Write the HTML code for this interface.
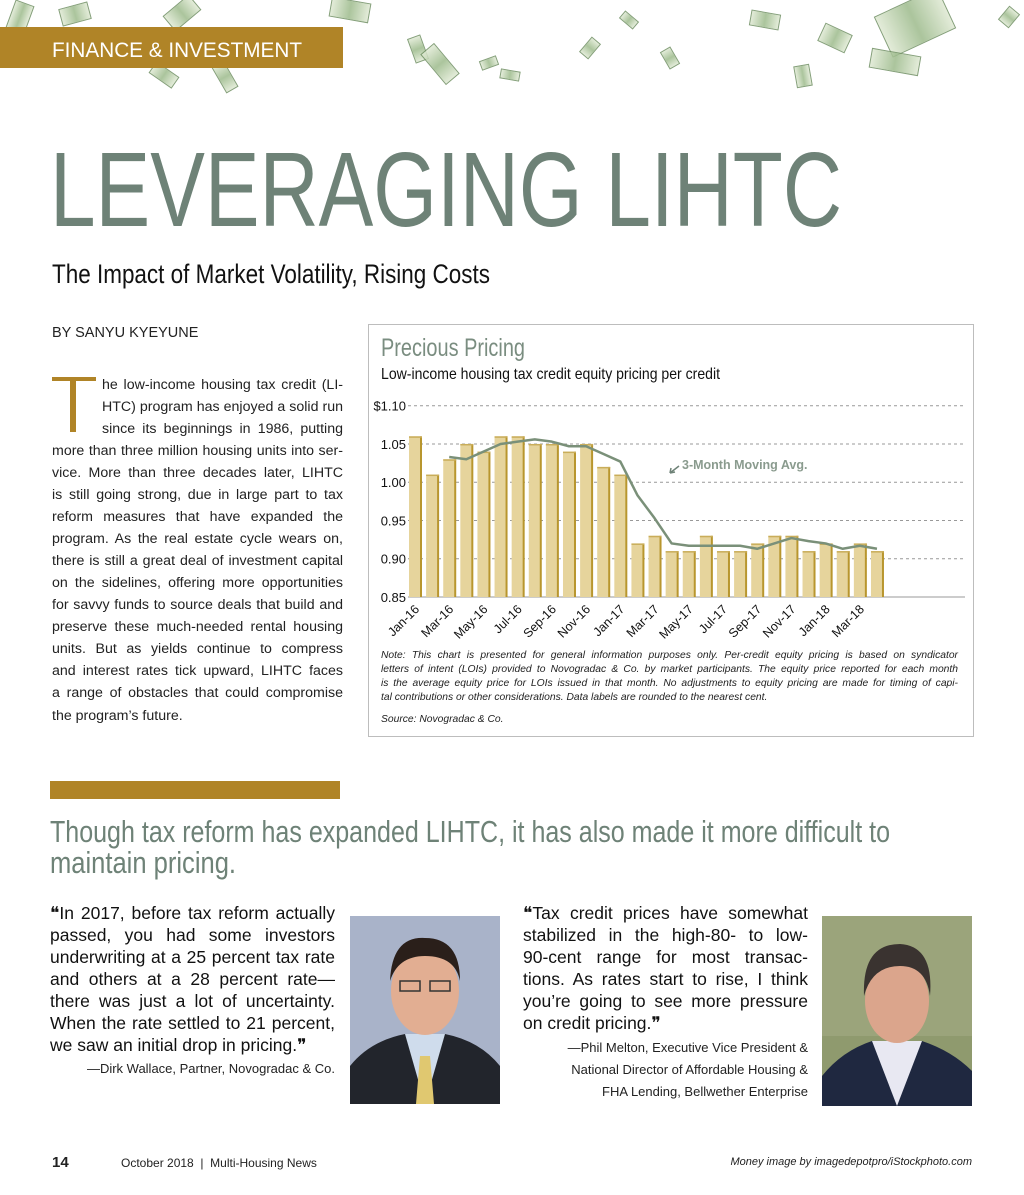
<!DOCTYPE html>
<html><head><meta charset="utf-8">
<style>
*{margin:0;padding:0;box-sizing:border-box}
body{width:1024px;height:1195px;background:#fff;position:relative;overflow:hidden;font-family:"Liberation Sans",sans-serif;color:#222}
.abs{position:absolute}
.j{position:absolute;white-space:nowrap;text-align:justify;text-align-last:justify}
.body{font-size:14.2px;line-height:22px;height:22px}
.q{font-size:17.5px;line-height:22px;height:22px;color:#111}
.n{font-size:10.3px;line-height:14px;height:14px;font-style:italic;color:#222}
.attr{font-size:13px;text-align:right;white-space:nowrap;position:absolute}
.bill{position:absolute;background:linear-gradient(90deg,#dfe9d3,#9dbb8c 50%,#dfe9d3);border:1px solid #6f8f62;opacity:.85}
</style></head><body>
<div class="abs" style="left:0;top:0;width:1024px;height:100px">
<div class="bill" style="left:10px;top:2px;width:20px;height:30px;transform:rotate(20deg)"></div>
<div class="bill" style="left:60px;top:5px;width:30px;height:18px;transform:rotate(-15deg)"></div>
<div class="bill" style="left:150px;top:68px;width:28px;height:14px;transform:rotate(35deg)"></div>
<div class="bill" style="left:165px;top:3px;width:34px;height:20px;transform:rotate(-40deg)"></div>
<div class="bill" style="left:210px;top:70px;width:30px;height:14px;transform:rotate(60deg)"></div>
<div class="bill" style="left:330px;top:0px;width:40px;height:20px;transform:rotate(10deg)"></div>
<div class="bill" style="left:405px;top:42px;width:26px;height:14px;transform:rotate(70deg)"></div>
<div class="bill" style="left:420px;top:55px;width:40px;height:18px;transform:rotate(50deg)"></div>
<div class="bill" style="left:480px;top:58px;width:18px;height:10px;transform:rotate(-20deg)"></div>
<div class="bill" style="left:500px;top:70px;width:20px;height:10px;transform:rotate(10deg)"></div>
<div class="bill" style="left:580px;top:42px;width:20px;height:12px;transform:rotate(-50deg)"></div>
<div class="bill" style="left:620px;top:15px;width:18px;height:10px;transform:rotate(40deg)"></div>
<div class="bill" style="left:660px;top:52px;width:20px;height:12px;transform:rotate(60deg)"></div>
<div class="bill" style="left:750px;top:12px;width:30px;height:16px;transform:rotate(10deg)"></div>
<div class="bill" style="left:820px;top:28px;width:30px;height:20px;transform:rotate(25deg)"></div>
<div class="bill" style="left:880px;top:0px;width:70px;height:45px;transform:rotate(-25deg)"></div>
<div class="bill" style="left:870px;top:52px;width:50px;height:20px;transform:rotate(10deg)"></div>
<div class="bill" style="left:795px;top:65px;width:16px;height:22px;transform:rotate(-10deg)"></div>
<div class="bill" style="left:1000px;top:10px;width:18px;height:14px;transform:rotate(-50deg)"></div>
</div>
<div class="abs" style="left:0;top:27px;width:343px;height:41px;background:#b08427"></div>
<svg class="abs" style="left:0;top:0" width="1024" height="900">
<text x="52" y="57" font-family="Liberation Sans Narrow, Liberation Sans, sans-serif" font-size="21" fill="#fff" textLength="250" lengthAdjust="spacingAndGlyphs">FINANCE &amp; INVESTMENT</text>
<text x="50" y="226" font-family="Liberation Sans Narrow, Liberation Sans, sans-serif" font-size="106" fill="#6e8277" textLength="792" lengthAdjust="spacingAndGlyphs">LEVERAGING LIHTC</text>
<text x="52" y="283" font-family="Liberation Sans Narrow, Liberation Sans, sans-serif" font-size="27" fill="#111" textLength="438" lengthAdjust="spacingAndGlyphs">The Impact of Market Volatility, Rising Costs</text>
<text x="50" y="842" font-family="Liberation Sans Narrow, Liberation Sans, sans-serif" font-size="31" fill="#6e8277" textLength="840" lengthAdjust="spacingAndGlyphs">Though tax reform has expanded LIHTC, it has also made it more difficult to</text>
<text x="50" y="873" font-family="Liberation Sans Narrow, Liberation Sans, sans-serif" font-size="31" fill="#6e8277" textLength="186" lengthAdjust="spacingAndGlyphs">maintain pricing.</text>
</svg>
<div class="abs" style="left:52px;top:325px;font-size:14.5px">BY SANYU KYEYUNE</div>
<div class="abs" style="left:52px;top:377px;width:44px;height:55px">
<div class="abs" style="left:0;top:0;width:44px;height:4px;background:#b08427"></div>
<div class="abs" style="left:18px;top:0;width:6px;height:55px;background:#b08427"></div>
</div>
<div>
<div class="j body" style="left:102px;top:374px;width:241px">he low-income housing tax credit (LI-</div>
<div class="j body" style="left:102px;top:396px;width:241px">HTC) program has enjoyed a solid run</div>
<div class="j body" style="left:102px;top:418px;width:241px">since its beginnings in 1986, putting</div>
<div class="j body" style="left:52px;top:440px;width:291px">more than three million housing units into ser-</div>
<div class="j body" style="left:52px;top:462px;width:291px">vice. More than three decades later, LIHTC</div>
<div class="j body" style="left:52px;top:484px;width:291px">is still going strong, due in large part to tax</div>
<div class="j body" style="left:52px;top:506px;width:291px">reform measures that have expanded the</div>
<div class="j body" style="left:52px;top:528px;width:291px">program. As the real estate cycle wears on,</div>
<div class="j body" style="left:52px;top:550px;width:291px">there is still a great deal of investment capital</div>
<div class="j body" style="left:52px;top:572px;width:291px">on the sidelines, offering more opportunities</div>
<div class="j body" style="left:52px;top:594px;width:291px">for savvy funds to source deals that build and</div>
<div class="j body" style="left:52px;top:616px;width:291px">preserve these much-needed rental housing</div>
<div class="j body" style="left:52px;top:638px;width:291px">units. But as yields continue to compress</div>
<div class="j body" style="left:52px;top:660px;width:291px">and interest rates tick upward, LIHTC faces</div>
<div class="j body" style="left:52px;top:682px;width:291px">a range of obstacles that could compromise</div>
<div class="abs body" style="left:52px;top:705px">the program’s future.</div>
</div>

<div class="abs" style="left:368px;top:324px;width:606px;height:413px;border:1px solid #bdbdbd"></div>
<svg class="abs" style="left:0;top:0" width="1024" height="760" id="chart">
<text x="381" y="356" font-family="Liberation Sans Narrow, Liberation Sans, sans-serif" font-size="25" fill="#7a8d80" textLength="144" lengthAdjust="spacingAndGlyphs">Precious Pricing</text>
<text x="381" y="379" font-family="Liberation Sans Narrow, Liberation Sans, sans-serif" font-size="16" fill="#111" textLength="339" lengthAdjust="spacingAndGlyphs">Low-income housing tax credit equity pricing per credit</text>
<g id="grid"></g><g id="bars"></g><g id="line"></g><g id="xl"></g><g id="yl"></g>
<text x="682" y="469" font-family="Liberation Sans, sans-serif" font-size="12.5" font-weight="bold" fill="#8a9b8e">3-Month Moving Avg.</text>
<path d="M679,466 L670,473 M670,473 l5,-1 M670,473 l1,-5" stroke="#6e8277" stroke-width="1.5" fill="none"/>
</svg>
<div>
<div class="j n" style="left:381px;top:649px;width:577px">Note: This chart is presented for general information purposes only. Per-credit equity pricing is based on syndicator</div>
<div class="j n" style="left:381px;top:663px;width:577px">letters of intent (LOIs) provided to Novogradac &amp; Co. by market participants. The equity price reported for each month</div>
<div class="j n" style="left:381px;top:677px;width:577px">is the average equity price for LOIs issued in that month. No adjustments to equity pricing are made for timing of capi-</div>
<div class="abs n" style="left:381px;top:691px;white-space:nowrap">tal contributions or other considerations. Data labels are rounded to the nearest cent.</div>
</div>
<div class="abs n" style="left:381px;top:713px;white-space:nowrap">Source: Novogradac &amp; Co.</div>

<div class="abs" style="left:50px;top:781px;width:290px;height:18px;background:#b08427"></div>

<div>
<div class="j q" style="left:50px;top:902px;width:285px">❝In 2017, before tax reform actually</div>
<div class="j q" style="left:50px;top:924px;width:285px">passed, you had some investors</div>
<div class="j q" style="left:50px;top:946px;width:285px">underwriting at a 25 percent tax rate</div>
<div class="j q" style="left:50px;top:968px;width:285px">and others at a 28 percent rate—</div>
<div class="j q" style="left:50px;top:990px;width:285px">there was just a lot of uncertainty.</div>
<div class="j q" style="left:50px;top:1012px;width:285px">When the rate settled to 21 percent,</div>
<div class="abs q" style="left:50px;top:1034px">we saw an initial drop in pricing.❞</div>
<div class="attr" style="right:689px;top:1061px">—Dirk Wallace, Partner, Novogradac &amp; Co.</div>
</div>
<div>
<div class="j q" style="left:523px;top:902px;width:285px">❝Tax credit prices have somewhat</div>
<div class="j q" style="left:523px;top:924px;width:285px">stabilized in the high-80- to low-</div>
<div class="j q" style="left:523px;top:946px;width:285px">90-cent range for most transac-</div>
<div class="j q" style="left:523px;top:968px;width:285px">tions. As rates start to rise, I think</div>
<div class="j q" style="left:523px;top:990px;width:285px">you’re going to see more pressure</div>
<div class="abs q" style="left:523px;top:1012px">on credit pricing.❞</div>
<div class="attr" style="right:216px;top:1040px">—Phil Melton, Executive Vice President &amp;</div>
<div class="attr" style="right:216px;top:1062px">National Director of Affordable Housing &amp;</div>
<div class="attr" style="right:216px;top:1084px">FHA Lending, Bellwether Enterprise</div>
</div>

<svg class="abs" style="left:350px;top:916px" width="150" height="188">
<rect width="150" height="188" fill="#a9b3c9"/>
<path d="M0,188 L0,150 Q20,125 55,118 L95,118 Q130,125 150,150 L150,188Z" fill="#22252c"/>
<path d="M55,118 L75,188 L95,118Z" fill="#cfdcec"/>
<path d="M70,140 L80,140 L84,188 L66,188Z" fill="#e0c870"/>
<ellipse cx="75" cy="75" rx="34" ry="44" fill="#e2ae92"/>
<path d="M40,65 Q42,20 75,22 Q110,22 110,65 Q105,40 75,40 Q48,40 40,65Z" fill="#2a1f1a"/>
<rect x="50" y="65" width="20" height="10" fill="none" stroke="#333" stroke-width="1.5"/><rect x="80" y="65" width="20" height="10" fill="none" stroke="#333" stroke-width="1.5"/>
</svg>
<svg class="abs" style="left:822px;top:916px" width="150" height="190">
<rect width="150" height="190" fill="#8f9a6e"/>
<rect x="0" y="0" width="150" height="120" fill="#a3ab84" opacity=".6"/>
<path d="M0,190 L0,160 Q20,135 50,125 L100,125 Q130,135 150,155 L150,190Z" fill="#1f2840"/>
<path d="M50,125 L75,190 L100,125Z" fill="#e8e8f2"/>
<ellipse cx="75" cy="85" rx="32" ry="42" fill="#dba58c"/>
<path d="M42,80 Q40,28 78,28 Q112,30 108,80 Q104,50 78,50 Q50,50 42,80Z" fill="#3a3330"/>
</svg>

<div class="abs" style="left:52px;top:1154px;font-size:15px;font-weight:bold">14</div>
<div class="abs" style="left:121px;top:1156px;font-size:12px">October 2018 &nbsp;|&nbsp; Multi-Housing News</div>
<div class="abs" style="right:52px;top:1156px;font-size:11px;font-style:italic">Money image by imagedepotpro/iStockphoto.com</div>

<script>
const months=["Jan-16","Feb-16","Mar-16","Apr-16","May-16","Jun-16","Jul-16","Aug-16","Sep-16","Oct-16","Nov-16","Dec-16","Jan-17","Feb-17","Mar-17","Apr-17","May-17","Jun-17","Jul-17","Aug-17","Sep-17","Oct-17","Nov-17","Dec-17","Jan-18","Feb-18","Mar-18","Apr-18"];
const prices=[1.06,1.01,1.03,1.05,1.04,1.06,1.06,1.05,1.05,1.04,1.05,1.02,1.01,0.92,0.93,0.91,0.91,0.93,0.91,0.91,0.92,0.93,0.93,0.91,0.92,0.91,0.92,0.91];
const movingAvg=[null,null,1.033,1.030,1.040,1.050,1.053,1.056,1.053,1.047,1.047,1.037,1.027,0.983,0.953,0.920,0.917,0.917,0.917,0.917,0.913,0.920,0.927,0.923,0.920,0.913,0.917,0.913];
const yTicks=[0.85,0.90,0.95,1.00,1.05,1.10];
const yTickLabels=["0.85","0.90","0.95","1.00","1.05","$1.10"];
const NS="http://www.w3.org/2000/svg";
const y=v=>597-(v-0.85)/0.25*191.3;
const xc=i=>415+i*17.11;
function mk(t,a,p){const e=document.createElementNS(NS,t);for(const k in a)e.setAttribute(k,a[k]);document.getElementById(p).appendChild(e);return e;}
yTicks.forEach((t,i)=>{
  if(i>0){const g=mk('line',{x1:408,x2:965,y1:y(t),y2:y(t),stroke:'#999','stroke-dasharray':'3,3','stroke-width':1},'grid');
  
  }
  const l=mk('text',{x:406,y:y(t)+5,'text-anchor':'end','font-size':13,'font-family':'Liberation Sans Narrow, Liberation Sans, sans-serif',fill:'#111'},'yl');
  l.textContent=yTickLabels[i];
  
  
});
mk('line',{x1:408,x2:965,y1:y(0.85),y2:y(0.85),stroke:'#999','stroke-width':1},'grid');
prices.forEach((v,i)=>{
  const b=mk('rect',{x:xc(i)-6,y:y(v),width:12,height:y(0.85)-y(v),fill:'#e6d49c'},'bars');
  
  
  mk('rect',{x:xc(i)+5,y:y(v),width:2,height:y(0.85)-y(v),fill:'#b8962e'},'bars');
  mk('rect',{x:xc(i)-6,y:y(v),width:13,height:1.5,fill:'#c9ad5a'},'bars');
});
let d='';movingAvg.forEach((v,i)=>{if(v!==null)d+=(d?'L':'M')+xc(i)+','+y(v);});
const ln=mk('path',{d:d,fill:'none',stroke:'#7a9079','stroke-width':2.5,'stroke-linejoin':'round'},'line');


months.forEach((m,i)=>{if(i%2)return;
  const t=mk('text',{x:xc(i)+5,y:610,'text-anchor':'end','font-size':12.5,'font-family':'Liberation Sans Narrow, Liberation Sans, sans-serif',fill:'#111',transform:`rotate(-45 ${xc(i)+5} 610)`},'xl');
  t.textContent=m;
  
  
});
</script>
</body></html>
